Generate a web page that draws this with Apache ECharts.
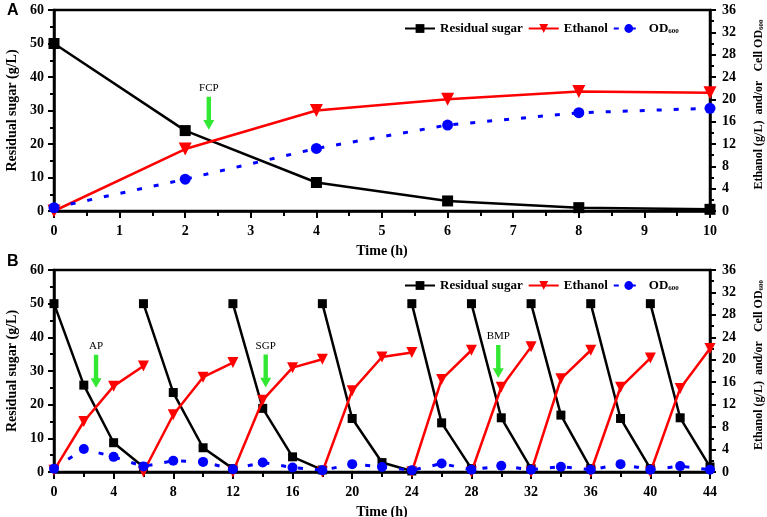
<!DOCTYPE html>
<html>
<head>
<meta charset="utf-8">
<script src="https://cdn.jsdelivr.net/npm/echarts@6/dist/echarts.min.js"></script>
<style>
html,body{margin:0;padding:0;background:#fff;}
#c{width:767px;height:517px;}
</style>
</head>
<body>
<div id="c"></div>
<script>
// ---------- Panel A data ----------
const timesA   = [0, 2, 4, 6, 8, 10];
const sugarA   = [50, 24, 8.5, 3, 1, 0.5];          // left axis (g/L)
const ethanolA = [0, 11.1, 18, 20, 21.4, 21.2];      // right axis
const odA      = [0.6, 5.7, 11.2, 15.4, 17.6, 18.4]; // right axis

// ---------- Panel B data (repeated batches) ----------
const cycleStartsB = [0, 6, 12, 18, 24, 28, 32, 36, 40];
const sugarB = [
  [50, 25.8, 8.7, 1.5],
  [50, 23.6, 7.2, 1],
  [50, 18.9, 4.5, 0.6],
  [50, 15.9, 2.8, 0.3],
  [50, 14.6, 1],
  [50, 16.1, 1],
  [50, 16.9, 1],
  [50, 15.9, 1],
  [50, 16.1, 1.5]
];
const ethanolB = [
  [0.3, 9.0, 15.3, 18.9],
  [0, 10.2, 16.9, 19.5],
  [0, 12.8, 18.6, 20.1],
  [0, 14.5, 20.5, 21.3],
  [0, 16.5, 21.7],
  [0, 15.1, 22.3],
  [0, 16.6, 21.7],
  [0, 15.1, 20.3],
  [0, 14.9, 22]
];
const timesOdB = [0,2,4,6,8,10,12,14,16,18,20,22,24,26,28,30,32,34,36,38,40,42,44];
const odB      = [0.6,4.1,2.7,1.0,2.0,1.8,0.5,1.7,0.8,0.3,1.4,0.9,0.3,1.5,0.4,1.1,0.4,0.95,0.4,1.4,0.4,1.05,0.4];

// annotations: [label, x, y (left-axis units, arrow centre)]
const annotA = [['FCP', 2.36, 29.2]];
const annotB = [['AP', 2.82, 29.9], ['SGP', 14.2, 30.0], ['BMP', 29.8, 32.8]];

// tick settings
const leftTicks  = {min: 0, max: 60, interval: 10};
const rightTicks = {min: 0, max: 36, interval: 4};

// ---------- helpers ----------
const SERIF = '"Liberation Serif", "Times New Roman", serif';
const pairs = (xs, ys) => xs.map((x, i) => [x, ys[i]]);
function cycles(starts, vals) {
  const out = [];
  starts.forEach((s, k) => {
    vals[k].forEach((v, i) => out.push([s + 2 * i, v]));
    out.push([s + 2 * (vals[k].length - 1), '-']);
  });
  return out;
}
const arrowPath = 'path://M3,0 L7,0 L7,24 L10,24 L5,34 L0,24 L3,24 Z';
function arrows(list) {
  return {
    silent: true,
    data: list.map(a => ({
      coord: [a[1], a[2]],
      symbol: arrowPath,
      symbolSize: [11, 33],
      itemStyle: {color: '#33e833'},
      label: {show: true, position: 'top', distance: 3, formatter: a[0],
              color: '#000', fontFamily: SERIF, fontSize: 11}
    }))
  };
}

const axisLineStyle = {color: '#000', width: 2.5};
const labelStyle = {color: '#000', fontFamily: SERIF, fontWeight: 'bold', fontSize: 14};
const nameStyle = {color: '#000', fontFamily: SERIF, fontWeight: 'bold', fontSize: 14};

function xAxis(gridIndex, max, interval) {
  return {
    type: 'value', gridIndex, min: 0, max, interval,
    name: 'Time (h)', nameLocation: 'middle', nameGap: 33, nameTextStyle: nameStyle,
    axisLine: {show: true, lineStyle: axisLineStyle},
    axisTick: {show: true, length: 7, lineStyle: {width: 2, color: '#000'}},
    minorTick: {show: true, splitNumber: 2, length: 5, lineStyle: {width: 2, color: '#000'}},
    axisLabel: {...labelStyle, margin: 13},
    splitLine: {show: false}
  };
}
function yLeft(gridIndex) {
  return {
    type: 'value', gridIndex, position: 'left', ...leftTicks,
    name: 'Residual sugar (g/L)', nameLocation: 'middle', nameGap: 35, nameRotate: 90,
    nameTextStyle: nameStyle,
    axisLine: {show: true, lineStyle: axisLineStyle},
    axisTick: {show: true, length: 6, lineStyle: {width: 2, color: '#000'}},
    minorTick: {show: true, splitNumber: 2, length: 4, lineStyle: {width: 2, color: '#000'}},
    axisLabel: {...labelStyle, margin: 10},
    splitLine: {show: false}
  };
}
function yRight(gridIndex) {
  return {
    type: 'value', gridIndex, position: 'right', ...rightTicks,
    name: '{a|    Ethanol (g/L)  and/or   Cell OD}{s|600}', nameLocation: 'middle', nameGap: 42, nameRotate: 90,
    nameTextStyle: {...nameStyle, fontSize: 12, rich: {
      a: {color: '#000', fontFamily: SERIF, fontWeight: 'bold', fontSize: 12},
      s: {color: '#000', fontFamily: SERIF, fontWeight: 'bold', fontSize: 7, verticalAlign: 'bottom', padding: [6, 0, 0, 0]}
    }},
    axisLine: {show: true, lineStyle: axisLineStyle},
    axisTick: {show: true, length: 6, lineStyle: {width: 2, color: '#000'}},
    minorTick: {show: true, splitNumber: 2, length: 4, lineStyle: {width: 2, color: '#000'}},
    axisLabel: {...labelStyle, margin: 12},
    splitLine: {show: false}
  };
}
function legend(top) {
  return {
    top, left: 399, itemWidth: 30, itemHeight: 11, itemGap: 5,
    data: ['Residual sugar', 'Ethanol', 'OD600'],
    formatter: n => n === 'OD600' ? '{a|OD}{s|600}' : '{a|' + n + '}',
    textStyle: {color: '#000', fontFamily: SERIF, fontWeight: 'bold', fontSize: 13, rich: {
      a: {color: '#000', fontFamily: SERIF, fontWeight: 'bold', fontSize: 13},
      s: {color: '#000', fontFamily: SERIF, fontWeight: 'bold', fontSize: 7, verticalAlign: 'bottom', padding: [6, 0, 0, 0]}
    }}
  };
}
function sugarSeries(idx, data, size, marks) {
  return {name: 'Residual sugar', type: 'line', xAxisIndex: idx, yAxisIndex: idx * 2,
    data, symbol: 'rect', symbolSize: size, connectNulls: false,
    itemStyle: {color: '#000'}, lineStyle: {color: '#000', width: 2.5},
    markPoint: marks, z: 3};
}
function ethSeries(idx, data, size) {
  return {name: 'Ethanol', type: 'line', xAxisIndex: idx, yAxisIndex: idx * 2 + 1,
    data, symbol: 'triangle', symbolRotate: 180, symbolSize: size, connectNulls: false,
    itemStyle: {color: '#ff0000'}, lineStyle: {color: '#ff0000', width: 2.5}, z: 4};
}
function odSeries(idx, data, size) {
  return {name: 'OD600', type: 'line', xAxisIndex: idx, yAxisIndex: idx * 2 + 1,
    data, symbol: 'circle', symbolSize: size,
    itemStyle: {color: '#0000ff'}, lineStyle: {color: '#0000ff', width: 3, type: [5, 12]}, z: 5};
}

const chart = echarts.init(document.getElementById('c'), null, {renderer: 'canvas'});
chart.setOption({
  animation: false,
  backgroundColor: '#fff',
  grid: [
    {left: 54, right: 57, top: 10, height: 201, show: true, borderColor: '#000', borderWidth: 2.5,
     containLabel: false, outerBoundsMode: 'none'},
    {left: 54, right: 57, top: 270, height: 202, show: true, borderColor: '#000', borderWidth: 2.5,
     containLabel: false, outerBoundsMode: 'none'}
  ],
  legend: [legend(17), legend(274)],
  xAxis: [xAxis(0, 10, 1), xAxis(1, 44, 4)],
  yAxis: [yLeft(0), yRight(0), yLeft(1), yRight(1)],
  graphic: [
    {type: 'text', left: 7, top: 3, style: {text: 'A', font: 'bold 16px "Liberation Sans", Arial, sans-serif', fill: '#000'}},
    {type: 'text', left: 7, top: 254, style: {text: 'B', font: 'bold 16px "Liberation Sans", Arial, sans-serif', fill: '#000'}}
  ],
  series: [
    sugarSeries(0, pairs(timesA, sugarA), 11, arrows(annotA)),
    ethSeries(0, pairs(timesA, ethanolA), 13),
    odSeries(0, pairs(timesA, odA), 11),
    sugarSeries(1, cycles(cycleStartsB, sugarB), 9, arrows(annotB)),
    ethSeries(1, cycles(cycleStartsB, ethanolB), 11),
    odSeries(1, pairs(timesOdB, odB), 10)
  ]
});
</script>
</body>
</html>
